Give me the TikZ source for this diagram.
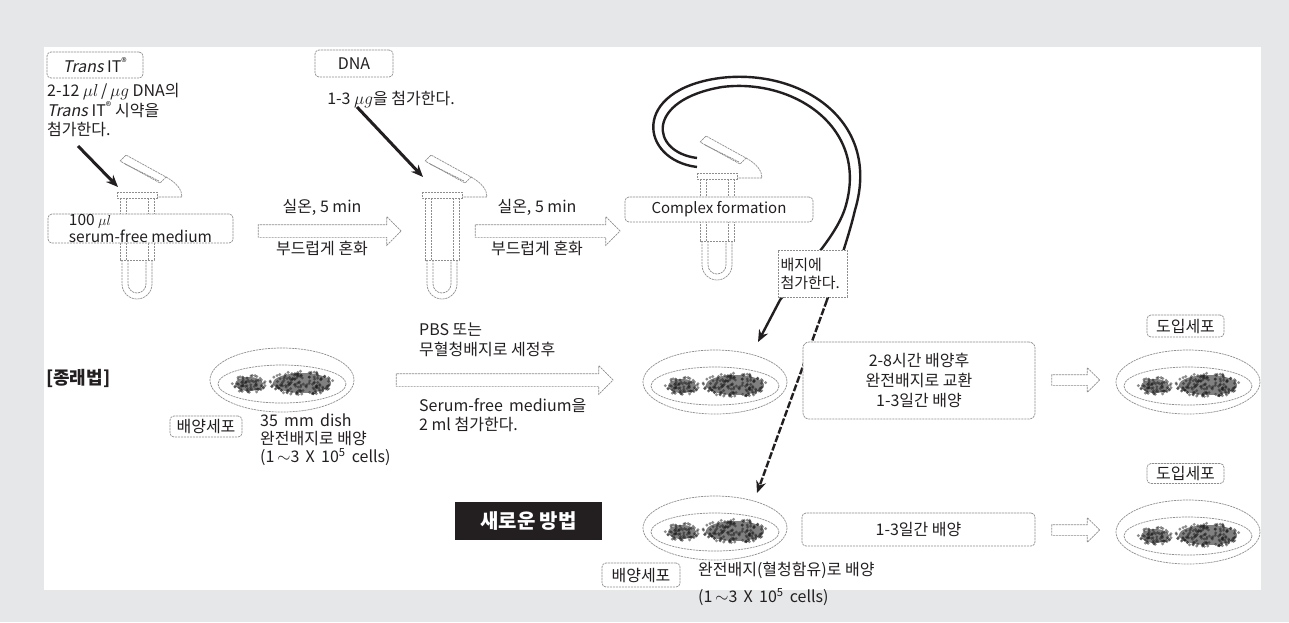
\documentclass[tikz,border=0pt]{standalone}
\usepackage{fontspec}
\setmainfont{Noto Sans CJK KR}[AutoFakeSlant=0.2]
\usetikzlibrary{arrows.meta,shapes.arrows,positioning}

\definecolor{framegray}{HTML}{E6E7E8}
\definecolor{inkgray}{HTML}{8E8E8E}
\definecolor{textink}{HTML}{231F20}

\tikzset{
  outline/.style={draw=inkgray, line width=0.7pt, dash pattern=on 2.2pt off 0.8pt},
  tag/.style={outline, rounded corners=4pt, fill=white, inner sep=0pt, text=textink,
    font=\fontsize{16}{19}\selectfont},
  note/.style={inner sep=0pt, align=left, text=textink, font=\fontsize{16}{19}\selectfont},
  hollow/.style={single arrow, outline, fill=white, minimum width=0pt, inner xsep=0pt,
    inner ysep=6pt, single arrow head extend=8pt, single arrow tip angle=90},
  drop/.style={line width=3pt, textink, -{Stealth[length=12pt,width=10pt]}},
  loopline/.style={line width=2.4pt, textink},
}

% 튜브 (뚜껑 윗면 가운데 기준)
\newcommand\eptube[2]{%
  \begin{scope}[shift={(#1,#2)}]
    \draw[outline, fill=white] (-17,-31) -- (-11,-37) -- (29,-15) -- (23,-9) -- cycle;
    \draw[outline] (-12,-28) -- (22,-11);
    \draw[outline] (29,-15) .. controls (40,-9) and (45,-2) .. (45,5) -- (20,5);
    \draw[outline, fill=white] (-20,0) rectangle (20,6);
    \draw[outline] (-17,6) -- (-17,68) -- (17,68) -- (17,6);
    \draw[outline] (-11,6) -- (-11,68) (11,6) -- (11,68);
    \draw[outline] (-15,68) -- (-15,92) arc[start angle=180, end angle=0, radius=15] -- (15,68);
    \draw[outline] (-9,68) -- (-9,92) arc[start angle=180, end angle=0, radius=9] -- (9,68);
  \end{scope}}

% 배양접시
\newcommand\petri[2]{%
  \begin{scope}[shift={(#1,#2)}]
    \draw[outline, fill=white] (0,0) ellipse [x radius=72, y radius=32];
    \draw[outline] (0,4) ellipse [x radius=64, y radius=19];
    \fill[black!50] (-33,4) ellipse [x radius=14, y radius=7];
    \fill[black!50] (20,3) ellipse [x radius=29, y radius=10];
    \pgfmathsetseed{7}
    \foreach \k in {1,...,220}{
      \pgfmathsetmacro\pa{360*rnd}
      \pgfmathsetmacro\pr{sqrt(rnd)}
      \ifnum\k<70 \def\cx{-33}\def\cy{4}\def\rx{17}\def\ry{9}%
      \else \def\cx{20}\def\cy{3}\def\rx{33}\def\ry{12}\fi
      \fill[black!90, opacity=0.5] ({\cx+\rx*\pr*cos(\pa)},{\cy+\ry*\pr*sin(\pa)}) circle (1.6);
    }
  \end{scope}}

\begin{document}
\begin{tikzpicture}[x=1pt,y=-1pt]
  % 배경
  \fill[framegray] (0,0) rectangle (1289,622);
  \useasboundingbox (0,0) rectangle (1289,622);
  \fill[white] (44,47) rectangle (1261,590);

  % 배지로 가는 곡선
  \coordinate (loopIn) at (697,158);
  \coordinate (loopOut) at (697,167);
  \coordinate (splitA) at (780,300);
  \coordinate (splitB) at (827,300);
  \coordinate (dropA) at (758,342);
  \coordinate (dropB) at (757,493);
  \draw[loopline] (loopOut) .. controls (640,160) and (630,90) .. (720,78)
    .. controls (800,68) and (882,120) .. (855,210)
    .. controls (848,240) and (835,275) .. (splitB);
  \draw[loopline, dash pattern=on 7pt off 2pt, -{Stealth[length=12pt,width=10pt]}] (splitB) -- (dropB);
  \draw[loopline, -{Stealth[length=12pt,width=10pt]}] (loopIn) .. controls (650,152) and (645,100) .. (722,87)
    .. controls (792,78) and (868,126) .. (846,205)
    .. controls (838,235) and (805,268) .. (splitA) -- (dropA);

  % 튜브
  \eptube{137}{192}
  \eptube{442}{192}
  \eptube{717}{173}

  % 시약
  \node[tag, minimum width=96pt, minimum height=26pt] (transtag) at (95,65) {\textit{Trans} IT\textsuperscript{®}};
  \node[note, anchor=west, font=\fontsize{16}{18.5}\selectfont] (transnote) at (47,110) {2-12 $\mu l$\,/\,$\mu g$ DNA의\\\textit{Trans} IT\textsuperscript{®} 시약을\\첨가한다.};
  \coordinate (transtail) at (78,146);
  \coordinate (transtip) at (118,187);
  \draw[drop] (transtail) -- (transtip);

  \node[tag, minimum width=185pt, minimum height=29pt, align=left,
    font=\fontsize{15.5}{11}\selectfont] (medium) at (140.5,228.5) {100 $\mu l$\\serum-free medium};

  \node[tag, minimum width=78pt, minimum height=27pt] (dnatag) at (354,63.5) {DNA};
  \node[note] (dnanote) at (391,100) {1-3 $\mu g$을 첨가한다.};
  \coordinate (dnatail) at (357,107);
  \coordinate (dnatip) at (423,177);
  \draw[drop] (dnatail) -- (dnatip);

  % 혼화
  \node[hollow, minimum height=143pt] (mixA) at (326.5,231) {};
  \node[note] at (322,207) {실온, 5 min};
  \node[note] at (322,248) {부드럽게 혼화};
  \node[hollow, minimum height=145pt] (mixB) at (544.5,231) {};
  \node[note] at (537,207) {실온, 5 min};
  \node[note] at (537,248) {부드럽게 혼화};

  \node[tag, minimum width=188pt, minimum height=25pt, font=\fontsize{15}{18}\selectfont] (complex) at (719,209.5) {Complex formation};
  \node[tag, rounded corners=0pt, minimum width=69pt, minimum height=47pt, text width=64pt, align=left,
    font=\fontsize{15}{18}\selectfont] (addmedium) at (812.5,273.5) {배지에\\첨가한다.};

  % 종래법
  \node[note, anchor=west, font=\bfseries\fontsize{18}{22}\selectfont] (oldway) at (46,378) {[종래법]};
  \petri{282}{380}
  \node[tag, minimum width=72pt, minimum height=21pt] (cellsA) at (206,426.5) {배양세포};
  \node[note, anchor=west, font=\fontsize{16}{18}\selectfont] (dishnote) at (260,440) {35 \,mm\, dish\\완전배지로 배양\\(1\,$\sim$3 \,X\, 10\textsuperscript{5} \,cells)};

  \node[note, anchor=west, font=\fontsize{16}{20}\selectfont] (washnote) at (419,340) {PBS 또는\\무혈청배지로 세정후};
  \node[hollow, minimum height=217pt] (wash) at (501.5,380) {};
  \node[note, anchor=west, font=\fontsize{16}{19}\selectfont] (serumnote) at (419,415.5) {Serum-free \,medium을\\2 ml 첨가한다.};

  \petri{715}{382}
  \node[tag, rounded corners=6pt, minimum width=232pt, minimum height=77pt, align=center,
    font=\fontsize{16}{20}\selectfont] (swap) at (919,380.5) {2-8시간 배양후\\완전배지로 교환\\1-3일간 배양};
  \node[hollow, minimum height=48pt, inner ysep=5pt, single arrow head extend=7pt] (goA) at (1073,380) {};
  \node[tag, minimum width=77pt, minimum height=22pt] (doneA) at (1185.5,326) {도입세포};
  \petri{1188}{382}

  % 새로운 방법
  \node[fill=textink, text=white, inner sep=0pt, minimum width=147pt, minimum height=38pt,
    font=\bfseries\fontsize{20}{22}\selectfont] (newway) at (528.5,521) {새로운 방법};
  \petri{715}{528}
  \node[tag, minimum width=233pt, minimum height=33pt] (culture) at (918.5,529.5) {1-3일간 배양};
  \node[hollow, minimum height=48pt, inner ysep=5pt, single arrow head extend=7pt] (goB) at (1073,530) {};
  \node[tag, minimum width=77pt, minimum height=20pt] (doneB) at (1185.5,473.5) {도입세포};
  \petri{1188}{532}
  \node[tag, minimum width=78pt, minimum height=24pt] (cellsB) at (641,575) {배양세포};
  \node[note, anchor=west] (serumdish) at (698,570) {완전배지(혈청함유)로 배양};
  \node[note, anchor=west] (cellcount) at (698,597) {(1\,$\sim$3 \,X\, 10\textsuperscript{5} \,cells)};
\end{tikzpicture}
\end{document}
